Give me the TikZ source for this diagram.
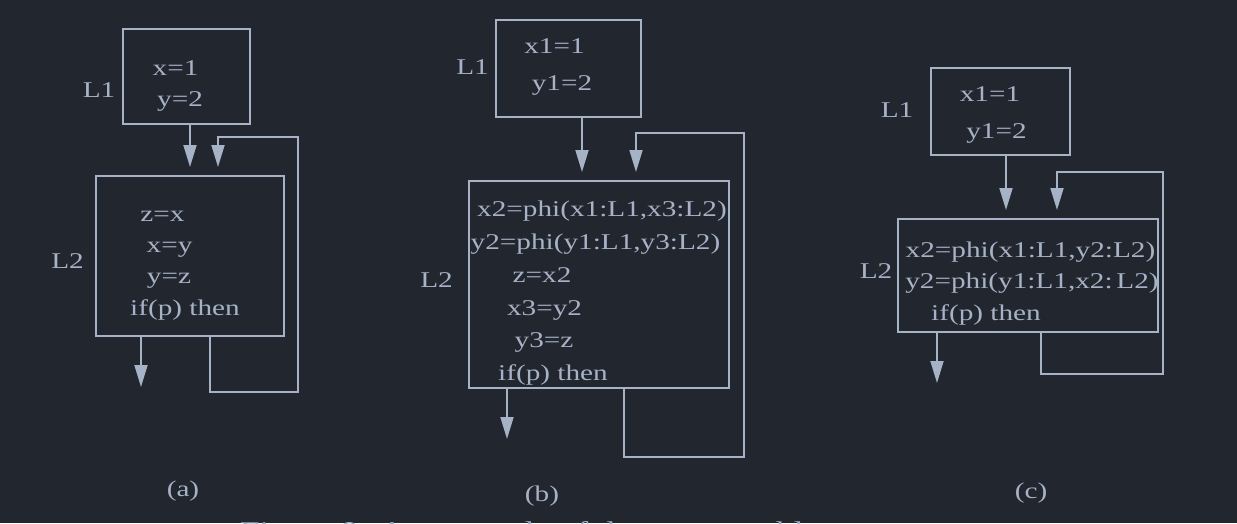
\documentclass[tikz,border=0pt]{standalone}
\usepackage{fontspec}
\setmainfont{Liberation Serif}[FakeStretch=1.3]
\usetikzlibrary{arrows.meta}
\definecolor{bgdark}{RGB}{34,38,46}
\definecolor{inkgrey}{RGB}{166,178,198}
\tikzset{
  block/.style={draw=inkgrey, line width=1.8pt, inner sep=0pt},
  stmt/.style={text=inkgrey, inner sep=0pt, anchor=base, font=\fontsize{22.5}{27}\selectfont},
  flow/.style={draw=inkgrey, line width=1.8pt, -{Triangle[length=22pt,width=13pt]}},
}
\begin{document}
\begin{tikzpicture}[x=1pt, y=-1pt]
   \fill[bgdark] (0,0) rectangle (1237,523);
   \useasboundingbox (0,0) rectangle (1237,523);

   % (a)
   \node[block, minimum width=127pt, minimum height=95pt] (a1) at (186.5,76.5) {};
   \node[stmt] (a1x) at (175.5,75) {x=1};
   \node[stmt] (a1y) at (180,106) {y=2};
   \node[stmt] (a1l) at (99,97) {L1};
   \node[block, minimum width=188pt, minimum height=160pt] (a2) at (190,256) {};
   \node[stmt] (a2z) at (162.5,221) {z=x};
   \node[stmt] (a2x) at (169.5,252) {x=y};
   \node[stmt] (a2y) at (169,283) {y=z};
   \node[stmt] (a2if) at (185,315) {if(p) then};
   \node[stmt] (a2l) at (67.5,268) {L2};
   \node[stmt] (acap) at (183,496) {(a)};
   \coordinate (a1in) at (190,167);
   \coordinate (a2in) at (218,167);
   \coordinate (a2ret) at (210,392);
   \coordinate (a2top) at (298,137);
   \coordinate (aout) at (141,387);
   \draw[flow] (a1.south -| a1in) -- (a1in);
   \draw[flow] (a2.south -| a2ret) |- (a2top |- a2ret) -- (a2top) -| (a2in);
   \draw[flow] (a2.south -| aout) -- (aout);

   % (b)
   \node[block, minimum width=145pt, minimum height=97pt] (b1) at (568.5,68.5) {};
   \node[stmt] (b1x) at (554.5,53) {x1=1};
   \node[stmt] (b1y) at (562,90) {y1=2};
   \node[stmt] (b1l) at (472.5,74) {L1};
   \node[block, minimum width=260pt, minimum height=207pt] (b2) at (599,284.5) {};
   \node[stmt] (b2p) at (602,216) {x2=phi(x1:L1,x3:L2)};
   \node[stmt] (b2q) at (595.5,249) {y2=phi(y1:L1,y3:L2)};
   \node[stmt] (b2z) at (542,282) {z=x2};
   \node[stmt] (b2x) at (544.5,315) {x3=y2};
   \node[stmt] (b2y) at (544,347) {y3=z};
   \node[stmt] (b2if) at (553,380) {if(p) then};
   \node[stmt] (b2l) at (436.5,287) {L2};
   \node[stmt] (bcap) at (542,501) {(b)};
   \coordinate (b1in) at (582,172);
   \coordinate (b2in) at (636,172);
   \coordinate (b2ret) at (624,457);
   \coordinate (b2top) at (744,133);
   \coordinate (bout) at (507,439);
   \draw[flow] (b1.south -| b1in) -- (b1in);
   \draw[flow] (b2.south -| b2ret) |- (b2top |- b2ret) -- (b2top) -| (b2in);
   \draw[flow] (b2.south -| bout) -- (bout);

   % (c)
   \node[block, minimum width=139pt, minimum height=87pt] (c1) at (1000.5,111.5) {};
   \node[stmt] (c1x) at (990,101) {x1=1};
   \node[stmt] (c1y) at (996.5,138) {y1=2};
   \node[stmt] (c1l) at (897,117) {L1};
   \node[block, minimum width=260pt, minimum height=113pt] (c2) at (1028,275.5) {};
   \node[stmt] (c2p) at (1030.5,257) {x2=phi(x1:L1,y2:L2)};
   \node[stmt] (c2q) at (1032,288) {y2=phi(y1:L1,x2:\,L2)};
   \node[stmt] (c2if) at (986,320) {if(p) then};
   \node[stmt] (c2l) at (876,278) {L2};
   \node[stmt] (ccap) at (1031,498) {(c)};
   \coordinate (c1in) at (1006,210);
   \coordinate (c2in) at (1057,210);
   \coordinate (c2ret) at (1041,374);
   \coordinate (c2top) at (1163,172);
   \coordinate (cout) at (937,383);
   \draw[flow] (c1.south -| c1in) -- (c1in);
   \draw[flow] (c2.south -| c2ret) |- (c2top |- c2ret) -- (c2top) -| (c2in);
   \draw[flow] (c2.south -| cout) -- (cout);

   % caption, cut by the page edge
   \node[stmt, anchor=base west, font=\fontsize{27}{32}\selectfont] (fig) at (240,540) {Figure 8: An example of the swap problem};
\end{tikzpicture}
\end{document}
